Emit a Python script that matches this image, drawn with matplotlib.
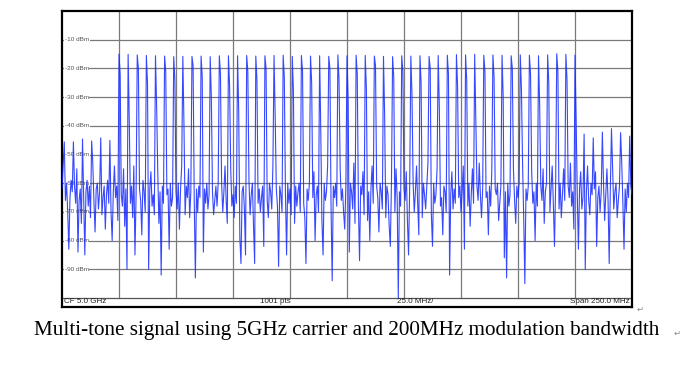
import numpy as np
import matplotlib
matplotlib.use("Agg")
import matplotlib.pyplot as plt

# ---------------- data ----------------
# sweep: 250 MHz span around 5.0 GHz carrier, frequencies as offset in MHz
span_start_mhz = -125.0
span_stop_mhz = 125.0

# noise floor of the trace (dBm), sampled every 0.5 MHz across the span
noise_dbm = [
    -62, -54, -64, -66, -60, -70, -83, -65, -59, -63, -71, -61, -67, -55, -84, -66, -62, -74, -60, -65,
    -85, -63, -59, -68, -61, -72, -64, -53, -66, -77, -62, -60, -69, -63, -56, -71, -65, -61, -76, -64,
    -59, -67, -62, -70, -80, -63, -54, -65, -61, -73, -66, -60, -64, -68, -55, -75, -62, -90, -63, -60,
    -67, -61, -72, -54, -85, -64, -60, -69, -62, -66, -78, -59, -63, -70, -61, -65, -90, -62, -56, -68,
    -64, -71, -60, -66, -56, -74, -63, -92, -61, -67, -53, -70, -64, -62, -83, -60, -68, -65, -73, -59,
    -63, -69, -60, -76, -62, -54, -67, -64, -71, -61, -65, -55, -72, -63, -68, -60, -66, -93, -62, -70,
    -61, -65, -53, -73, -84, -62, -67, -60, -69, -64, -77, -56, -63, -71, -66, -61, -68, -60, -82, -65,
    -60, -70, -63, -54, -66, -74, -82, -62, -55, -68, -64, -72, -61, -67, -60, -65, -79, -88, -63, -61,
    -69, -85, -62, -66, -59, -71, -64, -60, -75, -88, -63, -53, -67, -62, -70, -65, -61, -82, -64, -55,
    -66, -72, -60, -63, -69, -54, -65, -77, -62, -68, -89, -61, -64, -70, -56, -66, -63, -85, -60, -67,
    -62, -71, -53, -65, -74, -61, -68, -63, -60, -70, -64, -55, -67, -72, -88, -62, -66, -60, -69, -63,
    -65, -56, -80, -64, -61, -70, -67, -62, -73, -85, -60, -66, -63, -54, -71, -64, -68, -94, -61, -65,
    -60, -68, -63, -72, -55, -66, -62, -70, -76, -61, -64, -67, -84, -60, -63, -69, -53, -74, -65, -62,
    -68, -87, -61, -64, -56, -71, -66, -60, -73, -63, -80, -62, -54, -67, -64, -70, -61, -65, -77, -60,
    -63, -69, -53, -66, -72, -61, -64, -75, -82, -60, -67, -62, -70, -55, -65, -100, -63, -68, -60, -71,
    -62, -66, -56, -73, -85, -61, -68, -64, -60, -70, -63, -54, -67, -78, -62, -65, -72, -60, -64, -69,
    -61, -53, -66, -63, -71, -82, -60, -67, -64, -55, -74, -62, -68, -65, -78, -61, -63, -70, -60, -66,
    -92, -64, -56, -69, -62, -67, -73, -60, -65, -61, -70, -63, -54, -83, -66, -62, -68, -60, -75, -64,
    -55, -67, -63, -71, -61, -66, -53, -64, -72, -62, -69, -60, -65, -63, -78, -61, -68, -56, -66, -70,
    -62, -64, -60, -73, -67, -61, -65, -54, -86, -63, -93, -60, -68, -64, -71, -62, -55, -66, -74, -61,
    -65, -60, -69, -63, -53, -72, -95, -62, -66, -61, -70, -64, -56, -67, -63, -80, -60, -68, -65, -71,
    -61, -66, -55, -74, -63, -60, -68, -64, -70, -62, -54, -67, -82, -61, -65, -63, -69, -60, -72, -64,
    -55, -66, -62, -70, -61, -65, -53, -68, -63, -76, -60, -67, -64, -83, -62, -56, -69, -65, -61, -90,
    -63, -54, -66, -71, -60, -64, -68, -62, -56, -82, -65, -61, -70, -63, -67, -60, -73, -64, -55, -66,
    -88, -62, -65, -55, -69, -63, -60, -72, -66, -61, -64, -53, -67, -83, -62, -70, -60, -65, -63, -61,
    -64,
]

# in-band tones (200 MHz modulation bandwidth, 4 MHz spacing)
tone_freq_mhz = [
    -100, -96, -92, -88, -84, -80, -76, -72, -68, -64, -60, -56, -52, -48, -44, -40, -36,
    -32, -28, -24, -20, -16, -12, -8, -4, 0, 4, 8, 12, 16, 20, 24, 28, 32, 36,
    40, 44, 48, 52, 56, 60, 64, 68, 72, 76, 80, 84, 88, 92, 96, 100,
]
tone_dbm = [
    -15.0, -15.1, -15.3, -15.5, -15.6, -15.7, -15.9, -15.8, -15.8, -15.7, -15.9, -15.6, -15.6,
    -15.6, -15.5, -15.7, -15.6, -15.5, -15.4, -15.8, -15.5, -15.7, -15.6, -15.8, -15.3, -15.6,
    -15.4, -15.5, -15.7, -15.8, -15.9, -15.6, -15.7, -15.6, -15.8, -15.5, -15.4, -15.2, -15.3,
    -15.1, -15.4, -15.3, -15.4, -15.6, -15.3, -15.4, -15.6, -15.3, -14.9, -15.1, -15.4,
]
# level of the sweep point right after each in-band tone (tone skirt)
tone_shoulder_dbm = [
    -22, -38, -20, -25, -33, -21, -24, -40, -19, -23,
    -30, -22, -26, -35, -21, -24, -20, -37, -23, -28,
    -21, -25, -42, -20, -24, -31, -22, -27, -19, -36,
    -23, -21, -29, -25, -20, -34, -22, -26, -24, -39,
    -21, -23, -30, -20, -27, -22, -33, -25, -21, -24,
    -38,
]

# out-of-band spurious tones
spur_freq_mhz = [-124, -120, -116, -112, -108, -104, 104, 108, 112, 116, 120, 124]
spur_dbm = [-45.6, -45.6, -44.6, -45.3, -44.2, -45.1, -42.9, -44.2, -42.2, -41.0, -42.4, -43.6]

ref_levels = [-10, -20, -30, -40, -50, -60, -70, -80, -90]
status_texts = ["CF 5.0 GHz", "1001 pts", "25.0 MHz/", "Span 250.0 MHz"]
caption = "Multi-tone signal using 5GHz carrier and 200MHz modulation bandwidth"

# ---------------- build trace ----------------
freqs = np.linspace(span_start_mhz, span_stop_mhz, len(noise_dbm))
step = freqs[1] - freqs[0]
trace = np.array(noise_dbm, dtype=float)
for f, lv, sh in zip(tone_freq_mhz, tone_dbm, tone_shoulder_dbm):
    idx = int(round((f - span_start_mhz) / step))
    trace[idx] = lv
    trace[idx + 1] = sh
for f, lv in zip(spur_freq_mhz, spur_dbm):
    idx = int(round((f - span_start_mhz) / step))
    trace[idx] = lv

# ---------------- figure ----------------
W, H = 699, 369
fig = plt.figure(figsize=(W / 100, H / 100), dpi=100)
fig.patch.set_facecolor("white")

x0, x1 = 62, 632
y_top, y_bot = 11, 307
ax = fig.add_axes([x0 / W, (H - y_bot) / H, (x1 - x0) / W, (y_bot - y_top) / H])
ymin_status = -100 - (y_bot - 298) / ((298 - y_top) / 100.0)
ax.set_xlim(span_start_mhz, span_stop_mhz)
ax.set_ylim(ymin_status, 0)
ax.set_xticks([])
ax.set_yticks([])
for s in ax.spines.values():
    s.set_linewidth(1.6)
    s.set_color("black")

grid_color = "#7a7a7a"
for k in range(1, 10):
    xv = span_start_mhz + k * (span_stop_mhz - span_start_mhz) / 10
    ax.plot([xv, xv], [-100, 0], color=grid_color, lw=0.9, zorder=1)
for lv in ref_levels:
    ax.plot([span_start_mhz, span_stop_mhz], [lv, lv], color=grid_color, lw=0.9, zorder=1)
ax.plot([span_start_mhz, span_stop_mhz], [-100, -100], color="#555555", lw=0.9, zorder=1)

for lv in ref_levels:
    ax.text(-123.8, lv, f"{lv} dBm", fontsize=4.6, color="#555555", va="center", ha="left",
            family="Liberation Sans", zorder=2,
            bbox=dict(facecolor="white", edgecolor="none", pad=0.4))

ax.plot(freqs, trace, color="#1428ff", lw=0.8, alpha=0.85, zorder=3, clip_on=True)

ys = ymin_status + (-100 - ymin_status) / 2 + 0.2
xs_status = [-124.3, -38.2, 22.0, 124.0]
has = ["left", "left", "left", "right"]
for t, xv, ha in zip(status_texts, xs_status, has):
    ax.text(xv, ys, t, fontsize=5.8, ha=ha, va="center", color="#222222",
            family="Liberation Sans", zorder=4)

fig.text(640 / W, (H - 309) / H, "\u21b5", fontsize=6, color="#888888", ha="center",
         va="center", family="DejaVu Sans")

fig.text(347 / W, (H - 330) / H, caption, fontsize=15.2, family="Liberation Serif",
         ha="center", va="center", color="black")
fig.text(677 / W, (H - 333) / H, "\u21b5", fontsize=6, color="#888888", ha="center",
         va="center", family="DejaVu Sans")

fig.savefig("out.png", dpi=100)
